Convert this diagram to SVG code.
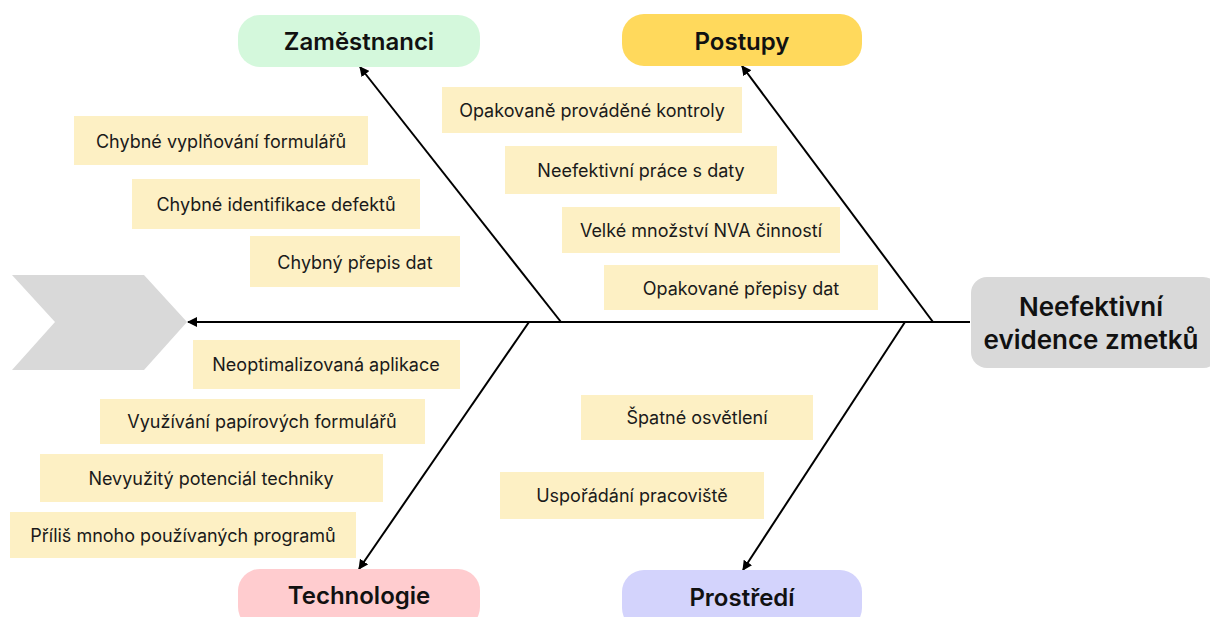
<svg xmlns="http://www.w3.org/2000/svg" width="1210" height="617" viewBox="0 0 1210 617">
  <defs>
    <marker id="arrow" viewBox="0 0 10 10" refX="9" refY="5" markerWidth="5" markerHeight="5" orient="auto-start-reverse" markerUnits="strokeWidth">
      <path d="M0,0 L10,5 L0,10 z" fill="#000"/>
    </marker>
    <style>
      .bone { stroke: #000; stroke-width: 2; fill: none; }
      .cause rect { fill: #fdf0c4; }
      .cause text { font-family: Inter, "Noto Sans", "Liberation Sans", sans-serif; font-size: 18px; fill: #1a1a1a; text-anchor: middle; dominant-baseline: central; }
      .cat text { font-family: Inter, "Noto Sans", "Liberation Sans", sans-serif; font-size: 24px; font-weight: 600; fill: #111; text-anchor: middle; dominant-baseline: central; }
      #effect text { font-size: 26px; }
    </style>
  </defs>

  <rect width="1210" height="617" fill="#fff"/>

  <!-- tail chevron -->
  <g id="tail">
    <polygon points="12,275 144,275 187,322 144,370 12,370 55,322" fill="#d9d9d9"/>
  </g>

  <!-- spine and bones -->
  <g id="connectors">
    <line class="bone" x1="970" y1="322" x2="188" y2="322" marker-end="url(#arrow)"/>
    <line class="bone" x1="561" y1="322" x2="360" y2="67" marker-end="url(#arrow)"/>
    <line class="bone" x1="933" y1="322" x2="742" y2="66" marker-end="url(#arrow)"/>
    <line class="bone" x1="529" y1="322" x2="359" y2="569" marker-end="url(#arrow)"/>
    <line class="bone" x1="905" y1="322" x2="743" y2="570" marker-end="url(#arrow)"/>
  </g>

  <!-- effect -->
  <g id="effect" class="cat">
    <rect x="971" y="277" width="248" height="91" rx="16" fill="#d9d9d9"/>
    <text x="1091" y="306">Neefektivní</text>
    <text x="1091" y="339">evidence zmetků</text>
  </g>

  <!-- categories -->
  <g id="cat-zamestnanci" class="cat">
    <rect x="238" y="15" width="242" height="52" rx="22" fill="#d4f8dc"/>
    <text x="359" y="41">Zaměstnanci</text>
  </g>
  <g id="cat-postupy" class="cat">
    <rect x="622" y="14" width="240" height="52" rx="22" fill="#ffd95c"/>
    <text x="742" y="41">Postupy</text>
  </g>
  <g id="cat-technologie" class="cat">
    <rect x="238" y="569" width="242" height="60" rx="22" fill="#ffcccf"/>
    <text x="359" y="595">Technologie</text>
  </g>
  <g id="cat-prostredi" class="cat">
    <rect x="622" y="570" width="240" height="60" rx="22" fill="#d3d3fc"/>
    <text x="742" y="597">Prostředí</text>
  </g>

  <!-- causes: Zaměstnanci -->
  <g id="c-z1" class="cause">
    <rect x="74" y="116" width="294" height="49"/>
    <text x="221" y="141">Chybné vyplňování formulářů</text>
  </g>
  <g id="c-z2" class="cause">
    <rect x="132" y="179" width="288" height="50"/>
    <text x="276" y="204">Chybné identifikace defektů</text>
  </g>
  <g id="c-z3" class="cause">
    <rect x="250" y="236" width="210" height="51"/>
    <text x="355" y="262">Chybný přepis dat</text>
  </g>

  <!-- causes: Postupy -->
  <g id="c-p1" class="cause">
    <rect x="442" y="87" width="300" height="46"/>
    <text x="592" y="110">Opakovaně prováděné kontroly</text>
  </g>
  <g id="c-p2" class="cause">
    <rect x="505" y="146" width="272" height="48"/>
    <text x="641" y="170">Neefektivní práce s daty</text>
  </g>
  <g id="c-p3" class="cause">
    <rect x="562" y="207" width="278" height="46"/>
    <text x="701" y="230">Velké množství NVA činností</text>
  </g>
  <g id="c-p4" class="cause">
    <rect x="604" y="265" width="274" height="45"/>
    <text x="741" y="288">Opakované přepisy dat</text>
  </g>

  <!-- causes: Technologie -->
  <g id="c-t1" class="cause">
    <rect x="193" y="340" width="267" height="49"/>
    <text x="326" y="364">Neoptimalizovaná aplikace</text>
  </g>
  <g id="c-t2" class="cause">
    <rect x="100" y="399" width="325" height="45"/>
    <text x="262" y="421">Využívání papírových formulářů</text>
  </g>
  <g id="c-t3" class="cause">
    <rect x="40" y="454" width="343" height="48"/>
    <text x="211" y="478">Nevyužitý potenciál techniky</text>
  </g>
  <g id="c-t4" class="cause">
    <rect x="10" y="512" width="346" height="46"/>
    <text x="183" y="535">Příliš mnoho používaných programů</text>
  </g>

  <!-- causes: Prostředí -->
  <g id="c-e1" class="cause">
    <rect x="581" y="395" width="232" height="45"/>
    <text x="697" y="417">Špatné osvětlení</text>
  </g>
  <g id="c-e2" class="cause">
    <rect x="500" y="472" width="264" height="47"/>
    <text x="632" y="495">Uspořádání pracoviště</text>
  </g>
</svg>
